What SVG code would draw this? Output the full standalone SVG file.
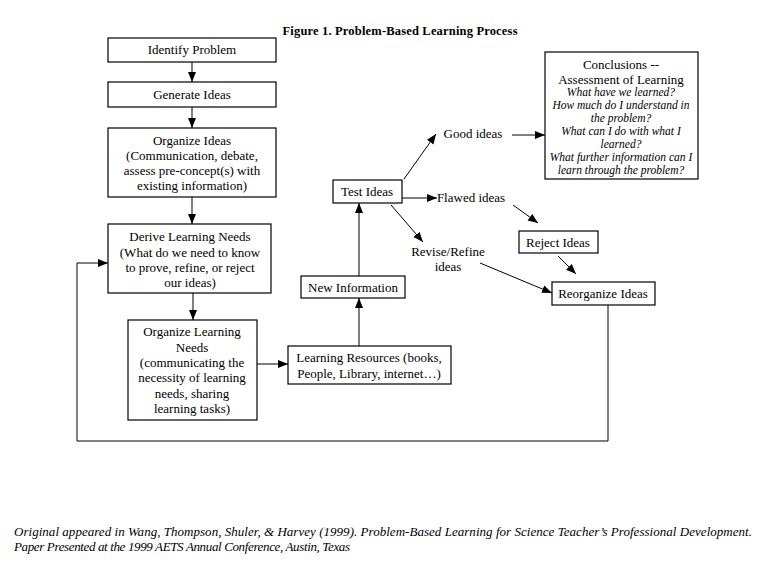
<svg xmlns="http://www.w3.org/2000/svg" width="768" height="575" viewBox="0 0 768 575">
<style>
.box{fill:#fff;stroke:#000;stroke-width:1.2}
.t{font-family:"Liberation Serif","Times New Roman",serif;font-size:13px;fill:#000;text-anchor:middle}
.i{font-family:"Liberation Serif","Times New Roman",serif;font-size:11.5px;font-style:italic;fill:#000;text-anchor:middle}
.c{fill:none;stroke:#000;stroke-width:1}
</style>
<defs>
<marker id="ah" markerUnits="userSpaceOnUse" markerWidth="10" markerHeight="10" viewBox="0 0 10 10" refX="10" refY="5" orient="auto">
<path d="M0,1 L10,5 L0,9 Z" fill="#000"/>
</marker>
</defs>
<rect width="768" height="575" fill="#fff"/>
<text x="400" y="35" font-family="'Liberation Serif','Times New Roman',serif" font-size="12.5px" font-weight="bold" text-anchor="middle" textLength="235">Figure 1. Problem-Based Learning Process</text>

<g id="connectors">
<line class="c" x1="192" y1="62" x2="192" y2="82" marker-end="url(#ah)"/>
<line class="c" x1="192" y1="107" x2="192" y2="128" marker-end="url(#ah)"/>
<line class="c" x1="192" y1="197" x2="192" y2="224" marker-end="url(#ah)"/>
<line class="c" x1="193" y1="293" x2="193" y2="320" marker-end="url(#ah)"/>
<line class="c" x1="257" y1="364" x2="288" y2="364" marker-end="url(#ah)"/>
<line class="c" x1="359" y1="346" x2="359" y2="298" marker-end="url(#ah)"/>
<line class="c" x1="359" y1="276" x2="359" y2="203" marker-end="url(#ah)"/>
<line class="c" x1="404" y1="179" x2="436" y2="134" marker-end="url(#ah)"/>
<line class="c" x1="512" y1="135" x2="545" y2="135" marker-end="url(#ah)"/>
<line class="c" x1="402" y1="198" x2="437" y2="198" marker-end="url(#ah)"/>
<line class="c" x1="513" y1="205" x2="538" y2="223" marker-end="url(#ah)"/>
<line class="c" x1="391" y1="205" x2="423" y2="242" marker-end="url(#ah)"/>
<line class="c" x1="480" y1="263" x2="552" y2="293" marker-end="url(#ah)"/>
<line class="c" x1="558" y1="256" x2="576" y2="274" marker-end="url(#ah)"/>
<polyline class="c" points="608,305 608,441 77,441 77,263 108,263" marker-end="url(#ah)"/>
</g>

<g id="identify-problem">
<rect class="box" x="108" y="38" width="168" height="24"/>
<text class="t" x="192" y="54">Identify Problem</text>
</g>
<g id="generate-ideas">
<rect class="box" x="108" y="82" width="168" height="25"/>
<text class="t" x="192" y="99">Generate Ideas</text>
</g>
<g id="organize-ideas">
<rect class="box" x="108" y="128" width="168" height="69"/>
<text class="t" x="192" y="145">Organize Ideas</text>
<text class="t" x="192" y="160">(Communication, debate,</text>
<text class="t" x="192" y="175">assess pre-concept(s) with</text>
<text class="t" x="192" y="190">existing information)</text>
</g>
<g id="derive-learning-needs">
<rect class="box" x="108" y="224" width="163" height="69"/>
<text class="t" x="190" y="241">Derive Learning Needs</text>
<text class="t" x="190" y="257">(What do we need to know</text>
<text class="t" x="190" y="272">to prove, refine, or reject</text>
<text class="t" x="190" y="287">our ideas)</text>
</g>
<g id="organize-learning-needs">
<rect class="box" x="128" y="320" width="129" height="100"/>
<text class="t" x="192" y="336">Organize Learning</text>
<text class="t" x="192" y="352">Needs</text>
<text class="t" x="192" y="367">(communicating the</text>
<text class="t" x="192" y="382">necessity of learning</text>
<text class="t" x="192" y="398">needs, sharing</text>
<text class="t" x="192" y="413">learning tasks)</text>
</g>
<g id="learning-resources">
<rect class="box" x="288" y="346" width="163" height="38"/>
<text class="t" x="369" y="362">Learning Resources (books,</text>
<text class="t" x="369" y="378">People, Library, internet…)</text>
</g>
<g id="new-information">
<rect class="box" x="301" y="276" width="104" height="22"/>
<text class="t" x="353" y="292">New Information</text>
</g>
<g id="test-ideas">
<rect class="box" x="333" y="180" width="69" height="23"/>
<text class="t" x="367" y="196">Test Ideas</text>
</g>
<g id="good-ideas">
<text class="t" x="473" y="138">Good ideas</text>
</g>
<g id="flawed-ideas">
<text class="t" x="471" y="202">Flawed ideas</text>
</g>
<g id="revise-refine-ideas">
<text class="t" x="448" y="256">Revise/Refine</text>
<text class="t" x="448" y="271">ideas</text>
</g>
<g id="reject-ideas">
<rect class="box" x="519" y="231" width="79" height="22"/>
<text class="t" x="558" y="247">Reject Ideas</text>
</g>
<g id="reorganize-ideas">
<rect class="box" x="552" y="282" width="103" height="23"/>
<text class="t" x="603" y="298">Reorganize Ideas</text>
</g>
<g id="conclusions">
<rect class="box" x="545" y="52" width="153" height="127" stroke-width="1.5"/>
<text class="t" x="621" y="69">Conclusions --</text>
<text class="t" x="621" y="84">Assessment of Learning</text>
<text class="i" x="621" y="96">What have we learned?</text>
<text class="i" x="621" y="109">How much do I understand in</text>
<text class="i" x="621" y="122">the problem?</text>
<text class="i" x="621" y="135">What can I do with what I</text>
<text class="i" x="621" y="148">learned?</text>
<text class="i" x="621" y="161">What further information can I</text>
<text class="i" x="621" y="174">learn through the problem?</text>
</g>

<text x="14" y="536" font-family="'Liberation Serif','Times New Roman',serif" font-size="13px" font-style="italic" textLength="738">Original appeared in Wang, Thompson, Shuler, &amp; Harvey (1999). Problem-Based Learning for Science Teacher’s Professional Development.</text>
<text x="14" y="551" font-family="'Liberation Serif','Times New Roman',serif" font-size="13px" font-style="italic" textLength="336">Paper Presented at the 1999 AETS Annual Conference, Austin, Texas</text>
</svg>
